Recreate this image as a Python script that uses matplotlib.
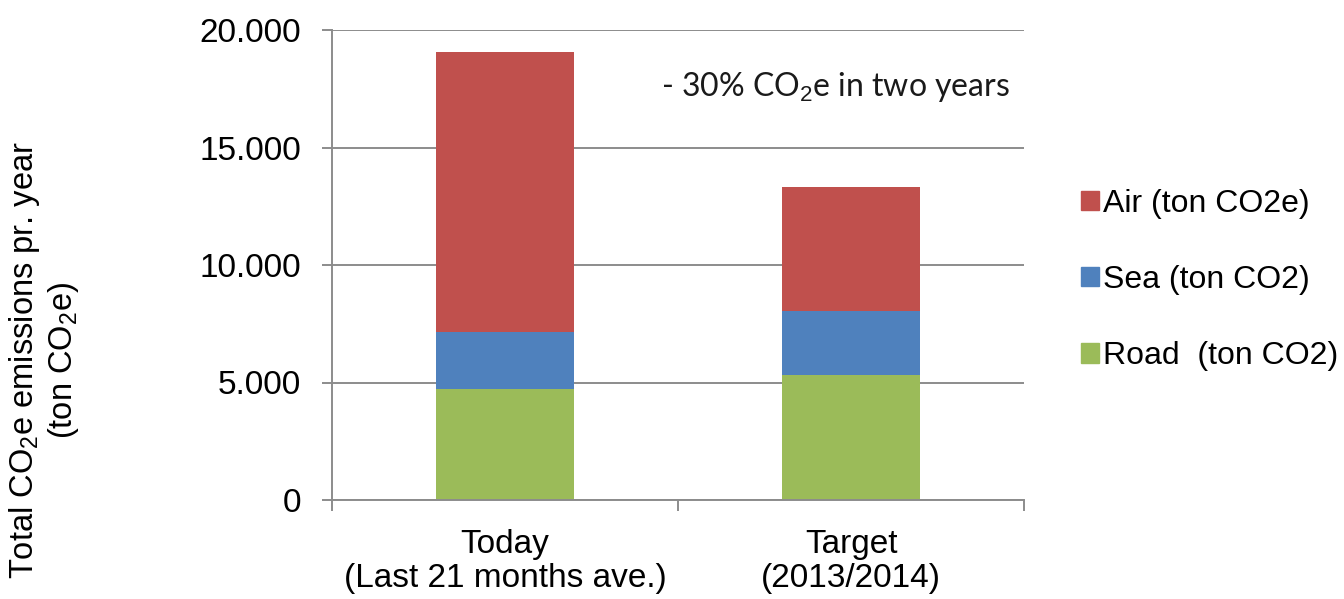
import matplotlib
matplotlib.use("Agg")
import matplotlib.pyplot as plt
import numpy as np
from matplotlib.ticker import FuncFormatter, FixedLocator
from matplotlib.patches import Patch

categories = ["Today\n(Last 21 months ave.)", "Target\n(2013/2014)"]
road = [4740, 5340]
sea = [2400, 2720]
air = [11930, 5250]
series_labels = ["Air (ton CO2e)", "Sea (ton CO2)", "Road  (ton CO2)"]
yticks = [0, 5000, 10000, 15000, 20000]

c_air = "#C0504D"
c_sea = "#4F81BD"
c_road = "#9BBB59"
grid_c = "#8C8C8C"

plt.rcParams["font.family"] = ["Liberation Sans", "DejaVu Sans"]
plt.rcParams["mathtext.fontset"] = "custom"
plt.rcParams["mathtext.rm"] = "Liberation Sans"
plt.rcParams["mathtext.it"] = "Liberation Sans"

W, H = 1344, 599
fig = plt.figure(figsize=(W / 100, H / 100), dpi=100)
ax = fig.add_axes([332 / W, 99 / H, 692 / W, 470 / H])

x = np.arange(len(categories))
width = 0.4
road_a = np.array(road)
sea_a = np.array(sea)
air_a = np.array(air)
ax.bar(x, road_a, width, color=c_road, zorder=2)
ax.bar(x, sea_a, width, bottom=road_a, color=c_sea, zorder=2)
ax.bar(x, air_a, width, bottom=road_a + sea_a, color=c_air, zorder=2)

ax.set_xlim(-0.5, 1.5)
ax.set_ylim(0, 20000)
ax.set_yticks(yticks)
ax.yaxis.set_major_formatter(FuncFormatter(lambda v, p: f"{int(v):,}".replace(",", ".")))
ax.yaxis.grid(True, color=grid_c, lw=1.4, zorder=0)
ax.set_axisbelow(True)

for s in ["top", "right"]:
    ax.spines[s].set_visible(False)
for s in ["left", "bottom"]:
    ax.spines[s].set_color(grid_c)
    ax.spines[s].set_linewidth(1.4)

ax.tick_params(axis="y", direction="out", length=7.5, width=1.4, color=grid_c,
               labelsize=24, pad=15, labelcolor="#000000")
ax.set_xticks(x)
ax.set_xticklabels(categories)
ax.tick_params(axis="x", which="major", length=0, labelsize=24, pad=21)
for t in ax.get_xticklabels():
    t.set_linespacing(1.1)
ax.xaxis.set_minor_locator(FixedLocator([-0.5, 0.5, 1.5]))
ax.tick_params(axis="x", which="minor", direction="out", length=8, width=1.4, color=grid_c)

ax.text(1010 / W, (599 - 87) / H, "- 30% CO$_2$e in two years", transform=fig.transFigure,
        ha="right", va="center", fontsize=23, family=["Lato", "DejaVu Sans"], color="#1a1a1a")

fig.text(44 / W, (599 - 360) / H, "Total CO$_2$e emissions pr. year\n(ton CO$_2$e)", rotation=90,
         ha="center", va="center", fontsize=23.5, multialignment="center", linespacing=1.15)

handles = [Patch(color=c_air), Patch(color=c_sea), Patch(color=c_road)]
fig.legend(handles, series_labels, loc="center left", bbox_to_anchor=(1081 / W, (599 - 280) / H),
           frameon=False, fontsize=23, handlelength=0.55, handleheight=0.55,
           handletextpad=0.15, labelspacing=1.45, borderaxespad=0, borderpad=0)

fig.savefig("out.png", dpi=100)
